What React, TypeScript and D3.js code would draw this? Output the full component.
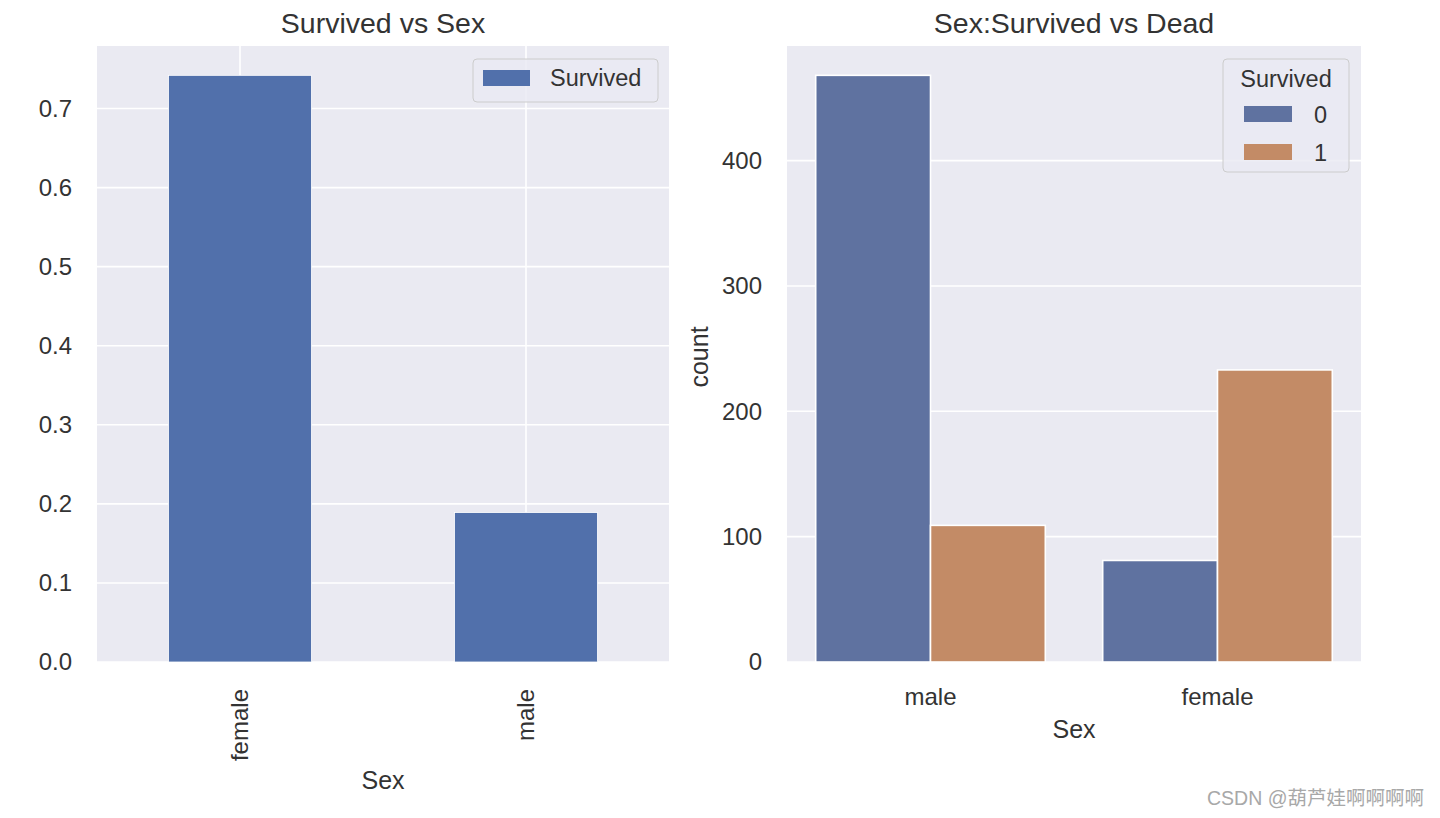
import React from "react";
import * as d3 from "d3";

const leftCategories = ["female", "male"];
const survivalRate = [0.742, 0.189];
const leftTicks = [0.0, 0.1, 0.2, 0.3, 0.4, 0.5, 0.6, 0.7];

const rightCategories = ["male", "female"];
const hueLevels = ["0", "1"];
const deadCounts = [468, 81];
const survivedCounts = [109, 233];
const rightTicks = [0, 100, 200, 300, 400];

const FONT = "'Liberation Sans', Arial, sans-serif";
const TXT = "#333333";
const BG = "#EAEAF2";
const BLUE = "#5170AB";
const HUE_COLORS = ["#5F72A0", "#C38B66"];

export default function App() {
  // Left panel
  const L = { x0: 97, x1: 669, y0: 46, y1: 662 };
  const lx = d3.scaleLinear().domain([-0.5, 1.5]).range([L.x0, L.x1]);
  const ly = d3.scaleLinear().domain([0, 0.742 * 1.05]).range([L.y1, L.y0]);

  // Right panel
  const R = { x0: 787, x1: 1361, y0: 46, y1: 662 };
  const rx = d3.scaleLinear().domain([-0.5, 1.5]).range([R.x0, R.x1]);
  const maxC = d3.max([...deadCounts, ...survivedCounts]) as number;
  const ry = d3.scaleLinear().domain([0, maxC * 1.05]).range([R.y1, R.y0]);
  const series = [deadCounts, survivedCounts];

  return (
    <svg
      width={1440}
      height={818}
      style={{ position: "absolute", left: 0, top: 0, background: "#fff", fontFamily: FONT }}
    >
      {/* LEFT */}
      <rect x={L.x0} y={L.y0} width={L.x1 - L.x0} height={L.y1 - L.y0} fill={BG} />
      {leftTicks.map((t) => (
        <line key={"lg" + t} x1={L.x0} x2={L.x1} y1={ly(t)} y2={ly(t)} stroke="#fff" strokeWidth={1.6} />
      ))}
      {leftCategories.map((c, i) => (
        <line key={"lv" + c} x1={lx(i)} x2={lx(i)} y1={L.y0} y2={L.y1} stroke="#fff" strokeWidth={1.6} />
      ))}
      {leftCategories.map((c, i) => (
        <rect
          key={"lb" + c}
          x={lx(i - 0.25)}
          width={lx(i + 0.25) - lx(i - 0.25)}
          y={ly(survivalRate[i])}
          height={ly(0) - ly(survivalRate[i])}
          fill={BLUE}
          stroke="#fff"
          strokeWidth={0.8}
        />
      ))}
      {leftTicks.map((t) => (
        <text key={"lt" + t} x={L.x0 - 25} y={ly(t)} dy="0.35em" textAnchor="end" fontSize={24} fill={TXT}>
          {t.toFixed(1)}
        </text>
      ))}
      {leftCategories.map((c, i) => (
        <text
          key={"lxl" + c}
          transform={`translate(${lx(i)},${L.y1 + 27}) rotate(-90)`}
          textAnchor="end"
          dy="0.35em"
          fontSize={24}
          fill={TXT}
        >
          {c}
        </text>
      ))}
      <text x={(L.x0 + L.x1) / 2} y={789} textAnchor="middle" fontSize={25} fill={TXT}>
        Sex
      </text>
      <text x={(L.x0 + L.x1) / 2} y={33} textAnchor="middle" fontSize={28.5} fill={TXT}>
        Survived vs Sex
      </text>
      {/* left legend */}
      <rect x={473} y={59} width={185} height={43} rx={4} fill={BG} fillOpacity={0.8} stroke="#cccccc" />
      <rect x={483} y={70} width={47} height={16} fill={BLUE} />
      <text x={550} y={78} dy="0.35em" fontSize={23.5} fill={TXT}>
        Survived
      </text>

      {/* RIGHT */}
      <rect x={R.x0} y={R.y0} width={R.x1 - R.x0} height={R.y1 - R.y0} fill={BG} />
      {rightTicks.map((t) => (
        <line key={"rg" + t} x1={R.x0} x2={R.x1} y1={ry(t)} y2={ry(t)} stroke="#fff" strokeWidth={1.6} />
      ))}
      {rightCategories.map((c, i) =>
        hueLevels.map((h, j) => {
          const v = series[j][i];
          const xs = rx(i - 0.4 + j * 0.4);
          const xe = rx(i + j * 0.4);
          return (
            <rect
              key={"rb" + c + h}
              x={xs}
              width={xe - xs}
              y={ry(v)}
              height={ry(0) - ry(v)}
              fill={HUE_COLORS[j]}
              stroke="#fff"
              strokeWidth={1.6}
            />
          );
        })
      )}
      {rightTicks.map((t) => (
        <text key={"rt" + t} x={R.x0 - 25} y={ry(t)} dy="0.35em" textAnchor="end" fontSize={24} fill={TXT}>
          {t}
        </text>
      ))}
      {rightCategories.map((c, i) => (
        <text key={"rxl" + c} x={rx(i)} y={697} dy="0.35em" textAnchor="middle" fontSize={24} fill={TXT}>
          {c}
        </text>
      ))}
      <text x={(R.x0 + R.x1) / 2} y={729} dy="0.35em" textAnchor="middle" fontSize={25} fill={TXT}>
        Sex
      </text>
      <text
        transform={`translate(${699},${(R.y0 + R.y1) / 2 + 3}) rotate(-90)`}
        textAnchor="middle"
        dy="0.35em"
        fontSize={25}
        fill={TXT}
      >
        count
      </text>
      <text x={(R.x0 + R.x1) / 2} y={33} textAnchor="middle" fontSize={28.5} fill={TXT}>
        Sex:Survived vs Dead
      </text>
      {/* right legend */}
      <rect x={1223} y={59} width={126} height={113} rx={4} fill={BG} fillOpacity={0.8} stroke="#cccccc" />
      <text x={1286} y={79} dy="0.35em" textAnchor="middle" fontSize={23.5} fill={TXT}>
        Survived
      </text>
      {hueLevels.map((h, j) => (
        <g key={"rl" + h}>
          <rect x={1244} y={106 + j * 38} width={48} height={16} fill={HUE_COLORS[j]} />
          <text x={1314} y={115 + j * 38} dy="0.35em" fontSize={23.5} fill={TXT}>
            {h}
          </text>
        </g>
      ))}

      {/* watermark */}
      <text x={1424} y={798} dy="0.35em" textAnchor="end" fontSize={19.5} fill="#a8a8a8"
        style={{ fontFamily: "'Liberation Sans', 'Noto Sans CJK SC', sans-serif" }}>
        CSDN @葫芦娃啊啊啊啊
      </text>
    </svg>
  );
}
